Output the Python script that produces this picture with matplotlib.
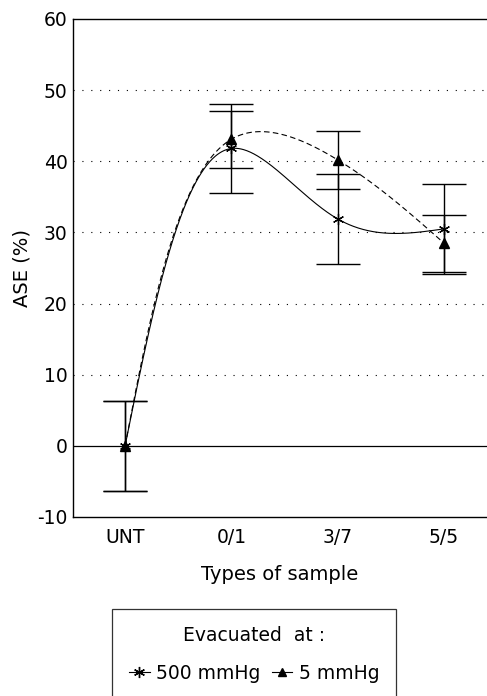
import numpy as np
import matplotlib
matplotlib.use("Agg")
import matplotlib.pyplot as plt
from matplotlib.lines import Line2D

plt.rcParams['font.family'] = ['DejaVu Sans']
plt.rcParams['axes.unicode_minus'] = False

samples = ["UNT", "0/1", "3/7", "5/5"]
ase_500 = [0.0, 41.8, 31.9, 30.5]
err_500 = [6.3, 6.3, 6.3, 6.3]
ase_5 = [0.0, 43.1, 40.2, 28.5]
err_5 = [6.3, 4.0, 4.1, 4.0]


def natural_spline(t, v, tt):
    # natural cubic spline, second derivs zero at both ends
    n = len(t)
    h = np.diff(t)
    A = np.zeros((n, n))
    b = np.zeros(n)
    A[0, 0] = 1
    A[-1, -1] = 1
    for i in range(1, n - 1):
        A[i, i - 1] = h[i - 1]
        A[i, i] = 2 * (h[i - 1] + h[i])
        A[i, i + 1] = h[i]
        b[i] = 6 * ((v[i + 1] - v[i]) / h[i] - (v[i] - v[i - 1]) / h[i - 1])
    M = np.linalg.solve(A, b)
    out = np.empty_like(tt)
    for k, s in enumerate(tt):
        i = min(np.searchsorted(t, s, side='right') - 1, n - 2)
        a = t[i + 1] - s
        c = s - t[i]
        out[k] = (M[i] * a**3 + M[i + 1] * c**3) / (6 * h[i]) \
            + (v[i] / h[i] - M[i] * h[i] / 6) * a \
            + (v[i + 1] / h[i] - M[i + 1] * h[i] / 6) * c
    return out


def smooth_curve(x, y, sx=106.0, sy=7.12, alpha=0.5):
    # parametric spline, centripetal-ish knot spacing in screen units
    px = np.asarray(x, float) * sx
    py = np.asarray(y, float) * sy
    d = np.hypot(np.diff(px), np.diff(py)) ** alpha
    t = np.concatenate([[0], np.cumsum(d)])
    tt = np.linspace(0, t[-1], 400)
    return natural_spline(t, px, tt) / sx, natural_spline(t, py, tt) / sy


xpos = np.arange(len(samples))

fig = plt.figure(figsize=(4.87, 6.96), dpi=100)
ax = fig.add_axes([73 / 487, 1 - 517 / 696, 414 / 487, 498 / 696])

for yv in [10, 20, 30, 40, 50]:
    ax.axhline(yv, color='black', lw=0.8, linestyle=(0, (1, 7)), zorder=1)
ax.axhline(0, color='black', lw=0.9, zorder=1)

cx, cy = smooth_curve(xpos, ase_500)
ax.plot(cx, cy, color='black', lw=0.8, zorder=2)
cx, cy = smooth_curve(xpos, ase_5)
ax.plot(cx, cy, color='black', lw=0.8, linestyle=(0, (5, 3)), zorder=2)

ax.errorbar(xpos, ase_500, yerr=err_500, fmt='none', ecolor='black',
            elinewidth=1.0, capsize=16, capthick=1.0, zorder=3)
ax.errorbar(xpos, ase_5, yerr=err_5, fmt='none', ecolor='black',
            elinewidth=1.0, capsize=16, capthick=1.0, zorder=3)
ax.plot(xpos, ase_500, linestyle='none', marker=(6, 2, 0), markersize=8,
        color='black', markeredgewidth=0.9, zorder=4)
ax.plot(xpos, ase_5, linestyle='none', marker='^', markersize=7,
        color='black', zorder=4)

ax.set_xlim(-0.49, 3.405)
ax.set_ylim(-10, 60)
ax.set_yticks([-10, 0, 10, 20, 30, 40, 50, 60])
ax.set_xticks(xpos)
ax.set_xticklabels(samples)
ax.tick_params(axis='both', length=0, labelsize=13.5)
ax.tick_params(axis='y', pad=4)
ax.tick_params(axis='x', pad=8)
ax.spines['right'].set_visible(False)
for s in ['left', 'bottom', 'top']:
    ax.spines[s].set_linewidth(1.0)

ax.set_xlabel("Types of sample", fontsize=14, labelpad=13)
ax.set_ylabel("ASE (%)", fontsize=14, labelpad=4)

handles = [
    Line2D([], [], color='black', lw=0.8, marker=(6, 2, 0), markersize=8),
    Line2D([], [], color='black', lw=0.8, marker='^', markersize=6),
]
leg = fig.legend(handles, ["500 mmHg", "5 mmHg"], ncol=2,
                 title="Evacuated  at :", title_fontsize=13.5, fontsize=13.5,
                 loc='upper left', bbox_to_anchor=(112 / 487, 1 - 609 / 696),
                 frameon=True, fancybox=False, edgecolor='black',
                 handlelength=1.1, handletextpad=0.35, columnspacing=0.6,
                 borderpad=0.9, labelspacing=1.0, borderaxespad=0)
leg.get_frame().set_linewidth(0.9)

fig.savefig("out.png", dpi=100)
